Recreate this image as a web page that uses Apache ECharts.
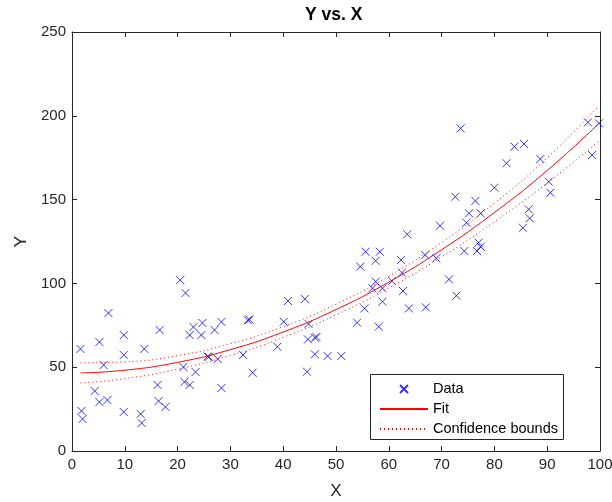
<!DOCTYPE html>
<html><head><meta charset="utf-8">
<script src="https://cdn.jsdelivr.net/npm/echarts@6/dist/echarts.min.js"></script>
<style>html,body{margin:0;padding:0;background:#fff}#c{width:612px;height:502px}</style>
</head><body><div id="c"></div>
<script>
const titleText = 'Y vs. X';
const xName = 'X';
const yName = 'Y';
const legendNames = ['Data', 'Fit', 'Confidence bounds'];

const dataX = [20.5,21.5,6.9,9.8,5.2,1.6,13.7,16.6,22.3,23.0,24.7,24.5,27.0,28.3,9.8,6.0,21.1,25.9,25.7,27.6,23.4,21.3,22.3,16.2,28.3,4.3,5.2,6.7,16.4,17.7,1.8,2.0,9.8,13.0,13.2,
  55.6,58.3,57.5,54.6,40.9,44.1,33.3,33.6,40.1,44.8,57.5,56.9,58.8,55.4,54.0,58.1,46.0,46.3,44.7,38.9,32.4,46.0,48.4,51.0,34.2,44.5,58.8,
  73.6,80.0,72.6,76.4,75.2,77.4,74.7,69.7,63.5,77.0,77.4,74.3,76.7,62.3,66.9,69.0,62.5,60.6,71.4,62.7,72.8,63.8,67.0,
  83.8,85.6,82.3,88.7,97.7,99.8,98.5,90.3,90.6,86.5,86.7,85.4];
const dataY = [102.0,94.3,82.3,69.2,65.0,60.9,60.9,72.2,69.2,74.0,76.4,69.2,72.2,77.0,57.3,51.3,50.1,56.1,56.4,54.9,47.1,41.2,39.4,39.4,37.6,35.8,29.2,30.4,29.8,26.3,23.9,19.1,23.3,22.1,16.7,
  118.9,118.9,113.5,110.0,89.5,90.7,78.0,78.4,77.1,75.8,101.0,97.1,97.1,85.1,76.6,74.2,67.6,68.0,66.6,62.2,57.3,57.7,56.7,56.7,46.7,47.3,89.1,
  192.5,157.1,151.7,149.2,141.8,141.8,136.2,134.4,129.3,124.3,121.9,119.3,119.3,114.0,116.9,115.0,106.4,101.4,102.4,95.5,92.7,85.1,85.7,
  181.6,183.2,171.7,174.2,196.1,195.5,176.6,160.7,154.1,144.2,138.8,133.2];

const fitX = [1.6,10,20,30,40,50,60,70,80,90,99.8];
const fitY = [46.6,48.2,52.9,60.5,71.0,84.4,100.8,120.1,142.3,167.4,195.4];
const upperY = [52.6,53.2,56.9,64.0,74.2,87.6,104.3,124.4,147.8,174.9,205.9];
const lowerY = [40.6,43.2,48.9,57.0,67.8,81.2,97.3,115.8,136.8,159.9,184.9];

const xTicks = {min:0, max:100, interval:10};
const yTicks = {min:0, max:250, interval:50};

const pair = (xs, ys) => xs.map((x, i) => [x, ys[i]]);
const FONT = '"Liberation Sans", Arial, sans-serif';
const INK = '#262626';

function axis(base, extra) {
  return Object.assign({
    type: 'value', min: base.min, max: base.max, interval: base.interval,
    axisLine: {show: true, onZero: false, lineStyle: {color: INK, width: 1}},
    axisTick: {show: true, inside: true, length: 5, lineStyle: {color: INK}},
    splitLine: {show: false},
    axisLabel: {color: INK, fontSize: 15, fontFamily: FONT, margin: 6}
  }, extra);
}

const chart = echarts.init(document.getElementById('c'), null, {renderer: 'canvas'});
chart.setOption({
  animation: false,
  backgroundColor: '#fff',
  title: {text: titleText, left: 305, top: 6, padding: 0,
    textStyle: {fontSize: 17.5, fontWeight: 'bold', color: '#000', fontFamily: FONT}},
  grid: {left: 72, right: 12, top: 32, bottom: 51, containLabel: false, outerBoundsMode: 'none'},
  xAxis: [
    axis(xTicks, {position: 'bottom', name: xName, nameLocation: 'middle', nameGap: 32,
      nameTextStyle: {fontSize: 17, color: INK, fontFamily: FONT}}),
    axis(xTicks, {position: 'top', axisLabel: {show: false}})
  ],
  yAxis: [
    axis(yTicks, {position: 'left', name: yName, nameLocation: 'middle', nameGap: 38,
      nameTextStyle: {fontSize: 17, color: INK, fontFamily: FONT}}),
    axis(yTicks, {position: 'right', axisLabel: {show: false}})
  ],
  legend: {
    orient: 'vertical', left: 379, top: 381.5, z: 20,
    itemWidth: 48, itemHeight: 8, itemGap: 5, padding: 0,
    textStyle: {fontSize: 14.5, color: '#000', fontFamily: FONT},
    data: [
      {name: legendNames[0]},
      {name: legendNames[1], itemStyle: {opacity: 0}},
      {name: legendNames[2], itemStyle: {opacity: 0}}
    ]
  },
  graphic: [{type: 'rect', z: 10, shape: {x: 370.5, y: 374.5, width: 193, height: 65},
    style: {fill: '#fff', stroke: INK, lineWidth: 1}}],
  series: [
    {name: legendNames[0], type: 'scatter', data: pair(dataX, dataY),
      symbol: 'path://M0,0L10,10M10,0L0,10', symbolSize: 8, symbolKeepAspect: true,
      itemStyle: {color: '#0000ff', borderColor: '#0000ff', borderWidth: 1}, z: 3},
    {name: legendNames[1], type: 'line', data: pair(fitX, fitY), smooth: true,
      symbol: 'none', lineStyle: {color: '#ff0000', width: 1}, itemStyle: {color: '#ff0000'}, z: 4},
    {name: legendNames[2], type: 'line', data: pair(fitX, upperY), smooth: true,
      symbol: 'none', lineStyle: {color: '#ff0000', width: 1, type: [1, 3]}, itemStyle: {color: '#ff0000'}, z: 4},
    {name: legendNames[2], type: 'line', data: pair(fitX, lowerY), smooth: true,
      symbol: 'none', lineStyle: {color: '#ff0000', width: 1, type: [1, 3]}, itemStyle: {color: '#ff0000'}, z: 4}
  ]
});
</script>
</body></html>
